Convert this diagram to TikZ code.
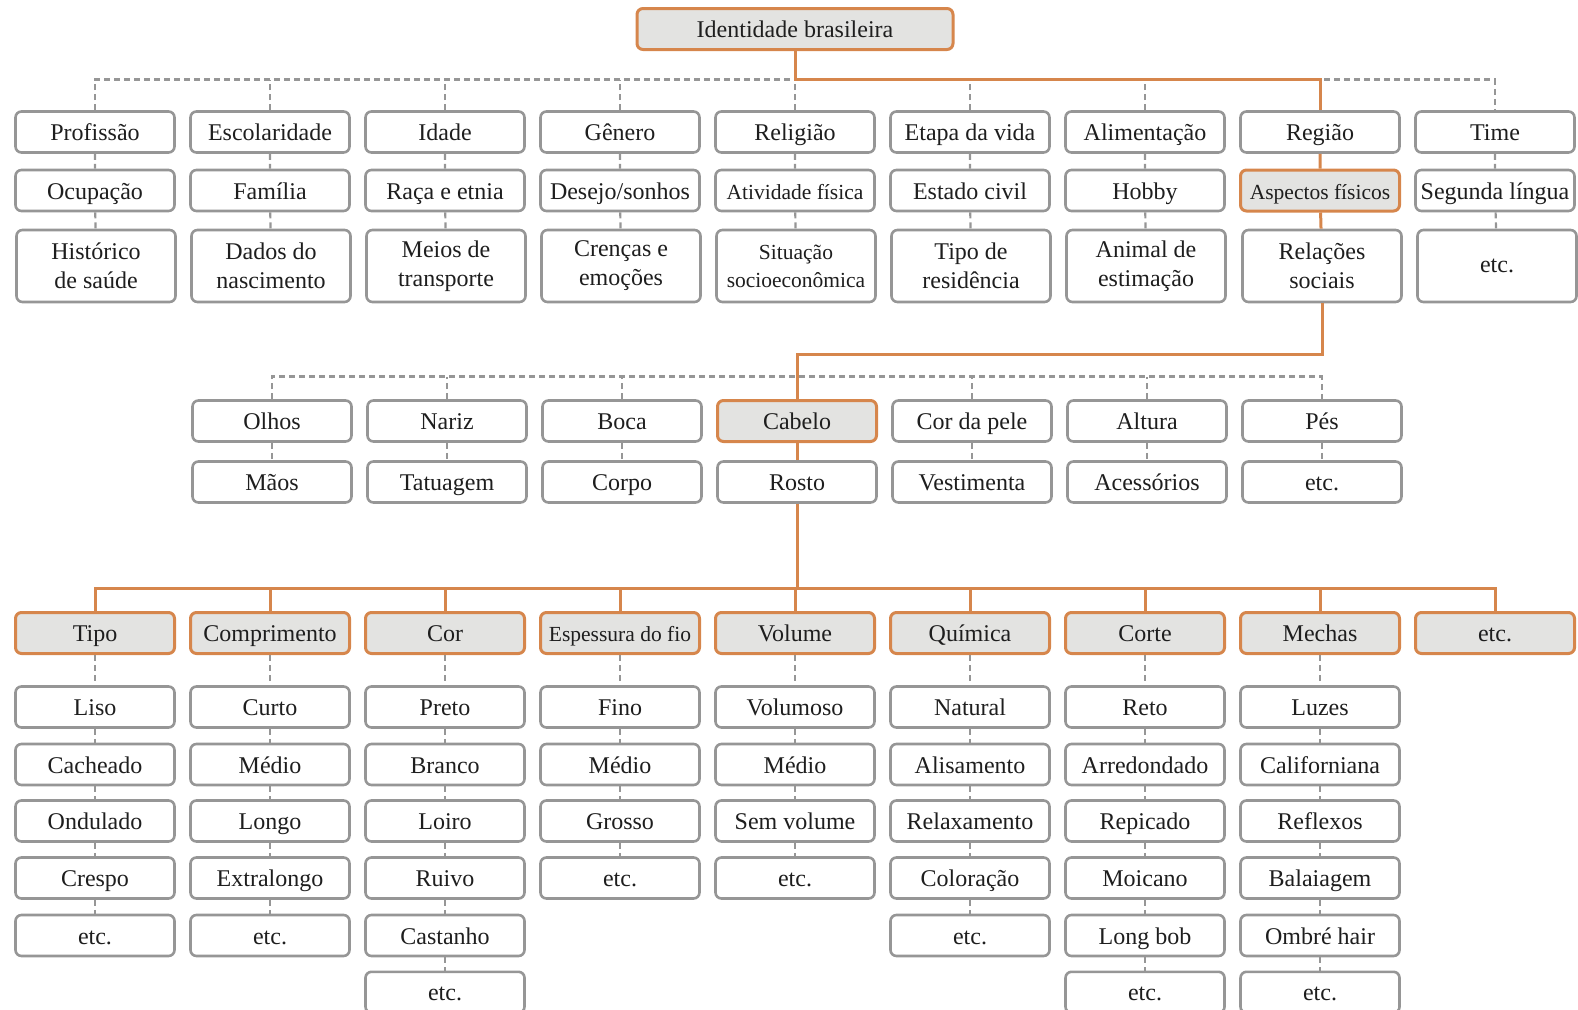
\documentclass[tikz,border=0pt]{standalone}
\usepackage{fontspec}
\setmainfont{Liberation Serif}
\usepackage{xcolor}
\definecolor{idOrange}{RGB}{214,134,76}
\definecolor{idGray}{RGB}{150,150,150}
\definecolor{idFill}{RGB}{227,227,225}
\definecolor{idText}{RGB}{30,30,30}

\tikzset{
  boxbase/.style={rectangle, draw=idGray, line width=2.6pt, rounded corners=6pt, fill=white,
    minimum width=159pt, minimum height=41pt, inner sep=1pt, text=idText, align=center,
    font=\fontsize{24}{29}\selectfont},
  itembox/.style={boxbase, text height=21pt, text depth=4pt},
  tallbox/.style={boxbase, minimum height=72pt},
  keybox/.style={itembox, draw=idOrange, line width=3pt, fill=idFill},
  smalltext/.style={font=\fontsize{21.5}{28}\selectfont},
  mainline/.style={draw=idOrange, line width=3pt},
  dashline/.style={draw=idGray, line width=2.2pt, dash pattern=on 6pt off 4pt}
}

\begin{document}
\begin{tikzpicture}[x=1pt, y=-1pt]
\useasboundingbox (0,0) rectangle (1578,1009);

% buses
\coordinate (busA) at (0,79.5);
\coordinate (busB) at (0,354);
\coordinate (busC) at (0,376.5);
\coordinate (busD) at (0,588.7);

% top
\node[keybox, minimum width=316pt] (idBR) at (795,29) {Identidade brasileira};

\node[itembox] (prof) at (95,132) {Profissão};
\node[itembox] (ocup) at (95,190.5) {Ocupação};
\node[tallbox] (hist) at (96,266) {Histórico\\de saúde};
\node[itembox] (esc) at (270,132) {Escolaridade};
\node[itembox] (fam) at (270,190.5) {Família};
\node[tallbox] (nasc) at (271,266) {Dados do\\nascimento};
\node[itembox] (idade) at (445,132) {Idade};
\node[itembox] (raca) at (445,190.5) {Raça e etnia};
\node[tallbox] (meios) at (446,266) {Meios de\\transporte};
\node[itembox] (gen) at (620,132) {Gênero};
\node[itembox] (desejo) at (620,190.5) {Desejo/sonhos};
\node[tallbox] (crencas) at (621,266) {Crenças e\\emoções};
\node[itembox] (relig) at (795,132) {Religião};
\node[itembox, smalltext] (ativ) at (795,190.5) {Atividade física};
\node[tallbox, smalltext] (situ) at (796,266) {Situação\\socioeconômica};
\node[itembox] (etapa) at (970,132) {Etapa da vida};
\node[itembox] (estciv) at (970,190.5) {Estado civil};
\node[tallbox] (tipores) at (971,266) {Tipo de\\residência};
\node[itembox] (alim) at (1145,132) {Alimentação};
\node[itembox] (hobby) at (1145,190.5) {Hobby};
\node[tallbox] (animal) at (1146,266) {Animal de\\estimação};
\node[itembox] (regiao) at (1320,132) {Região};
\node[keybox, smalltext] (aspectos) at (1320,190.5) {Aspectos físicos};
\node[tallbox] (relacoes) at (1322,266) {Relações\\sociais};
\node[itembox] (time) at (1495,132) {Time};
\node[itembox] (segl) at (1495,190.5) {Segunda língua};
\node[tallbox] (etcA) at (1497,266) {etc.};

% aspectos fisicos
\node[itembox] (olhos) at (272,421) {Olhos};
\node[itembox] (maos) at (272,482) {Mãos};
\node[itembox] (nariz) at (447,421) {Nariz};
\node[itembox] (tatu) at (447,482) {Tatuagem};
\node[itembox] (boca) at (622,421) {Boca};
\node[itembox] (corpo) at (622,482) {Corpo};
\node[keybox] (cabelo) at (797,421) {Cabelo};
\node[itembox] (rosto) at (797,482) {Rosto};
\node[itembox] (corpele) at (972,421) {Cor da pele};
\node[itembox] (vest) at (972,482) {Vestimenta};
\node[itembox] (altura) at (1147,421) {Altura};
\node[itembox] (acess) at (1147,482) {Acessórios};
\node[itembox] (pes) at (1322,421) {Pés};
\node[itembox] (etcB) at (1322,482) {etc.};

% cabelo
\node[keybox] (tipo) at (95,633) {Tipo};
\node[itembox] (liso) at (95,707) {Liso};
\node[itembox] (cach) at (95,764.5) {Cacheado};
\node[itembox] (ondu) at (95,821) {Ondulado};
\node[itembox] (crespo) at (95,878) {Crespo};
\node[itembox] (etcT) at (95,935.5) {etc.};

\node[keybox] (compr) at (270,633) {Comprimento};
\node[itembox] (curto) at (270,707) {Curto};
\node[itembox] (medioC) at (270,764.5) {Médio};
\node[itembox] (longo) at (270,821) {Longo};
\node[itembox] (extra) at (270,878) {Extralongo};
\node[itembox] (etcC) at (270,935.5) {etc.};

\node[keybox] (cor) at (445,633) {Cor};
\node[itembox] (preto) at (445,707) {Preto};
\node[itembox] (branco) at (445,764.5) {Branco};
\node[itembox] (loiro) at (445,821) {Loiro};
\node[itembox] (ruivo) at (445,878) {Ruivo};
\node[itembox] (cast) at (445,935.5) {Castanho};
\node[itembox] (etcCor) at (445,992.3) {etc.};

\node[keybox, smalltext] (esp) at (620,633) {Espessura do fio};
\node[itembox] (fino) at (620,707) {Fino};
\node[itembox] (medioE) at (620,764.5) {Médio};
\node[itembox] (grosso) at (620,821) {Grosso};
\node[itembox] (etcE) at (620,878) {etc.};

\node[keybox] (vol) at (795,633) {Volume};
\node[itembox] (volu) at (795,707) {Volumoso};
\node[itembox] (medioV) at (795,764.5) {Médio};
\node[itembox] (semvol) at (795,821) {Sem volume};
\node[itembox] (etcV) at (795,878) {etc.};

\node[keybox] (quim) at (970,633) {Química};
\node[itembox] (natural) at (970,707) {Natural};
\node[itembox] (alis) at (970,764.5) {Alisamento};
\node[itembox] (relax) at (970,821) {Relaxamento};
\node[itembox] (color) at (970,878) {Coloração};
\node[itembox] (etcQ) at (970,935.5) {etc.};

\node[keybox] (corte) at (1145,633) {Corte};
\node[itembox] (reto) at (1145,707) {Reto};
\node[itembox] (arred) at (1145,764.5) {Arredondado};
\node[itembox] (repic) at (1145,821) {Repicado};
\node[itembox] (moic) at (1145,878) {Moicano};
\node[itembox] (lbob) at (1145,935.5) {Long bob};
\node[itembox] (etcCo) at (1145,992.3) {etc.};

\node[keybox] (mechas) at (1320,633) {Mechas};
\node[itembox] (luzes) at (1320,707) {Luzes};
\node[itembox] (calif) at (1320,764.5) {Californiana};
\node[itembox] (refl) at (1320,821) {Reflexos};
\node[itembox] (balai) at (1320,878) {Balaiagem};
\node[itembox] (ombre) at (1320,935.5) {Ombré hair};
\node[itembox] (etcM) at (1320,992.3) {etc.};

\node[keybox] (etcH) at (1495,633) {etc.};

% dashed links
\draw[dashline] (prof.north) -- (prof.north |- busA) -- (time.north |- busA) -- (time.north)
  (esc.north) -- (esc.north |- busA) (idade.north) -- (idade.north |- busA)
  (gen.north) -- (gen.north |- busA) (relig.north) -- (relig.north |- busA)
  (etapa.north) -- (etapa.north |- busA) (alim.north) -- (alim.north |- busA);
\draw[dashline] (prof) -- (ocup) -- (hist) (esc) -- (fam) -- (nasc)
  (idade) -- (raca) -- (meios) (gen) -- (desejo) -- (crencas)
  (relig) -- (ativ) -- (situ) (etapa) -- (estciv) -- (tipores)
  (alim) -- (hobby) -- (animal) (time) -- (segl) -- (etcA);
\draw[dashline] (olhos.north) -- (olhos.north |- busC) -- (pes.north |- busC) -- (pes.north)
  (nariz.north) -- (nariz.north |- busC) (boca.north) -- (boca.north |- busC)
  (corpele.north) -- (corpele.north |- busC) (altura.north) -- (altura.north |- busC);
\draw[dashline] (olhos) -- (maos) (nariz) -- (tatu) (boca) -- (corpo)
  (corpele) -- (vest) (altura) -- (acess) (pes) -- (etcB);
\draw[dashline] (tipo) -- (liso) -- (cach) -- (ondu) -- (crespo) -- (etcT)
  (compr) -- (curto) -- (medioC) -- (longo) -- (extra) -- (etcC)
  (cor) -- (preto) -- (branco) -- (loiro) -- (ruivo) -- (cast) -- (etcCor)
  (esp) -- (fino) -- (medioE) -- (grosso) -- (etcE)
  (vol) -- (volu) -- (medioV) -- (semvol) -- (etcV)
  (quim) -- (natural) -- (alis) -- (relax) -- (color) -- (etcQ)
  (corte) -- (reto) -- (arred) -- (repic) -- (moic) -- (lbob) -- (etcCo)
  (mechas) -- (luzes) -- (calif) -- (refl) -- (balai) -- (ombre) -- (etcM);

% main path
\draw[mainline] (idBR.south) -- (idBR.south |- busA) -| (regiao.north);
\draw[mainline] (regiao) -- (aspectos) -- (relacoes);
\draw[mainline] (relacoes.south) -- (relacoes.south |- busB) -| (cabelo.north);
\draw[mainline] (cabelo) -- (rosto);
\draw[mainline] (rosto.south) -- (rosto.south |- busD);
\draw[mainline] (tipo.north) -- (tipo.north |- busD) -- (etcH.north |- busD) -- (etcH.north)
  (compr.north) -- (compr.north |- busD) (cor.north) -- (cor.north |- busD)
  (esp.north) -- (esp.north |- busD) (vol.north) -- (vol.north |- busD)
  (quim.north) -- (quim.north |- busD) (corte.north) -- (corte.north |- busD)
  (mechas.north) -- (mechas.north |- busD);
\end{tikzpicture}
\end{document}
